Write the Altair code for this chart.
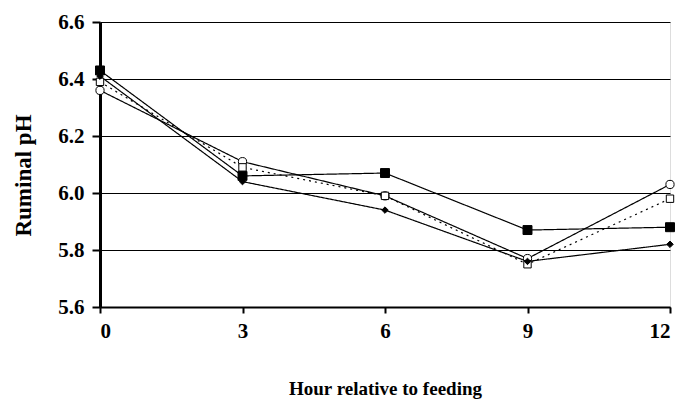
import altair as alt
import pandas as pd

hours = [0, 3, 6, 9, 12]
series_names = ["filled square", "open circle", "open square", "filled diamond"]
filled_square = [6.43, 6.06, 6.07, 5.87, 5.88]
open_circle = [6.36, 6.11, 5.99, 5.77, 6.03]
open_square = [6.39, 6.09, 5.99, 5.75, 5.98]
filled_diamond = [6.41, 6.04, 5.94, 5.76, 5.82]

rows = []
for name, vals in zip(series_names, [filled_square, open_circle, open_square, filled_diamond]):
    for h, v in zip(hours, vals):
        rows.append({"hour": h, "ph": v, "series": name})
df = pd.DataFrame(rows)

FONT = "Liberation Serif"

x = alt.X("hour:Q", scale=alt.Scale(domain=[0, 12], nice=False),
          axis=alt.Axis(values=hours, title="Hour relative to feeding", grid=False,
                        domainColor="black", domainWidth=2, tickColor="black", tickWidth=2,
                        tickSize=6, labelPadding=7, labelFontSize=21, labelFontWeight="bold",
                        labelFont=FONT, labelColor="black", titleFont=FONT, titleFontSize=19,
                        titleFontWeight="bold", titleColor="black", titlePadding=38))
y = alt.Y("ph:Q", scale=alt.Scale(domain=[5.6, 6.6], nice=False, zero=False),
          axis=alt.Axis(values=[5.6, 5.8, 6.0, 6.2, 6.4, 6.6], format=".1f", title="Ruminal pH",
                        grid=True, gridColor="black", gridWidth=1, gridOpacity=1,
                        domainColor="black", domainWidth=3, tickColor="black", tickWidth=2,
                        tickSize=8, labelPadding=8, labelFontSize=21, labelFontWeight="bold",
                        labelFont=FONT, labelColor="black", titleFont=FONT, titleFontSize=23,
                        titleFontWeight="bold", titleColor="black",
                        titleX=-65, titleY=153))

lines = alt.Chart(df).mark_line(color="black", strokeWidth=1.2).encode(
    x=x, y=y,
    detail="series:N",
    strokeDash=alt.StrokeDash("series:N", scale=alt.Scale(
        domain=series_names, range=[[1, 0], [1, 0], [2, 4], [1, 0]]), legend=None),
)

shape_scale = alt.Scale(domain=series_names, range=["square", "circle", "square", "diamond"])
fill_scale = alt.Scale(domain=series_names, range=["black", "white", "white", "black"])
size_scale = alt.Scale(domain=series_names, range=[80, 42, 75, 45])

points = alt.Chart(df).mark_point(filled=True, stroke="black", strokeWidth=1, opacity=1).encode(
    x=x, y=y,
    shape=alt.Shape("series:N", scale=shape_scale, legend=None),
    fill=alt.Fill("series:N", scale=fill_scale, legend=None),
    size=alt.Size("series:N", scale=size_scale, legend=None),
)

chart = alt.layer(lines, points).properties(
    width=570, height=285,
    autosize=alt.AutoSizeParams(type="none"),
    padding={"left": 92, "top": 14, "right": 14, "bottom": 95},
).configure_view(stroke=None).configure(background="white")

chart.save("out.html", embed_options={"renderer": "svg", "actions": False})
